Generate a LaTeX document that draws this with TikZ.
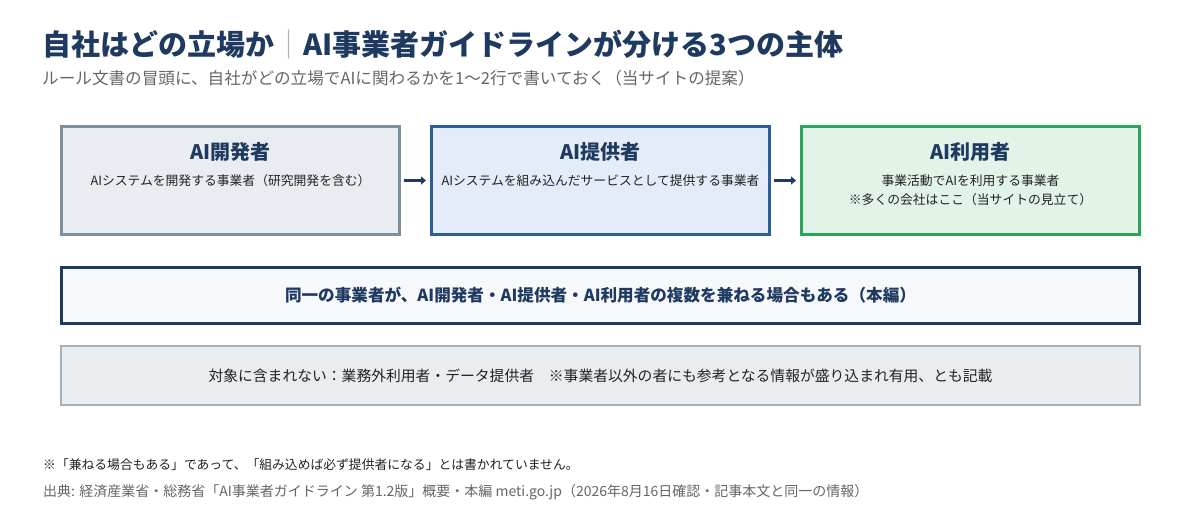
\documentclass[tikz,border=0pt]{standalone}
\usepackage{fontspec}
\setmainfont{Noto Sans CJK JP}
\usepackage{xcolor}
\usetikzlibrary{arrows.meta,positioning}

\definecolor{navy}{HTML}{1F3A60}
\definecolor{subgray}{HTML}{666666}
\definecolor{bargray}{HTML}{AAB2BA}
\definecolor{devline}{HTML}{7C909D}
\definecolor{devfill}{HTML}{E9EDF1}
\definecolor{provline}{HTML}{2E5E98}
\definecolor{provfill}{HTML}{E3ECF8}
\definecolor{userline}{HTML}{2AA65A}
\definecolor{userfill}{HTML}{E2F3E8}
\definecolor{bothfill}{HTML}{F6F8FC}
\definecolor{scopeline}{HTML}{A2B1BB}
\definecolor{scopefill}{HTML}{E9EDF0}
\definecolor{inktext}{HTML}{222222}

\begin{document}
\begin{tikzpicture}[x=1pt, y=-1pt, >={Triangle[length=5pt,width=8pt]}]
                    % Define styles
                    \tikzstyle{role} = [rectangle, draw, line width=3pt, minimum width=338pt, minimum height=108pt, inner sep=0pt]
                    \tikzstyle{roletitle} = [inner sep=0pt, text=navy, font=\bfseries\fontsize{20pt}{24pt}\selectfont]
                    \tikzstyle{roletext} = [inner sep=0pt, text=inktext, align=center, font=\fontsize{12.8pt}{19pt}\selectfont]
                    \tikzstyle{wide} = [rectangle, draw, inner sep=0pt, minimum width=1078pt]
                    \tikzstyle{line} = [draw, ->, navy, line width=3.5pt, shorten <=3pt, shorten >=4pt]
                    \tikzstyle{note} = [inner sep=0pt, anchor=west, font=\fontsize{12.8pt}{15pt}\selectfont]

                    \useasboundingbox [fill=white] (0,0) rectangle (1200,520);

                    % Heading
                    \node [note, text=navy, font=\bfseries\fontsize{29pt}{33pt}\selectfont] (title) at (42,44) {自社はどの立場か{\mdseries\color{bargray}｜}AI事業者ガイドラインが分ける3つの主体};
                    \node [note, text=subgray, font=\fontsize{16.6pt}{19pt}\selectfont] (subtitle) at (42,78) {ルール文書の冒頭に、自社がどの立場でAIに関わるかを1〜2行で書いておく（当サイトの提案）};

                    % Nodes
                    \node [role, draw=devline, fill=devfill] (dev) at (230.5,180.5) {};
                    \node [role, draw=provline, fill=provfill, right=29pt of dev] (prov) {};
                    \node [role, draw=userline, fill=userfill, right=29pt of prov] (user) {};

                    \node [roletitle] (devtitle) at ([yshift=-27pt]dev.north) {AI開発者};
                    \node [roletitle] (provtitle) at ([yshift=-27pt]prov.north) {AI提供者};
                    \node [roletitle] (usertitle) at ([yshift=-27pt]user.north) {AI利用者};

                    \node [roletext, below=13pt of devtitle] (devtext) {AIシステムを開発する事業者（研究開発を含む）};
                    \node [roletext, below=13pt of provtitle] (provtext) {AIシステムを組み込んだサービスとして提供する事業者};
                    \node [roletext, below=13pt of usertitle] (usertext) {事業活動でAIを利用する事業者\\※多くの会社はここ（当サイトの見立て）};

                    \node [wide, draw=navy, line width=3pt, fill=bothfill, minimum height=56pt, text=navy, font=\bfseries\fontsize{16.6pt}{19pt}\selectfont, below=30pt of dev.south west, anchor=north west] (both) {同一の事業者が、AI開発者・AI提供者・AI利用者の複数を兼ねる場合もある（本編）};
                    \node [wide, draw=scopeline, line width=2pt, fill=scopefill, minimum width=1079pt, minimum height=59pt, text=inktext, font=\fontsize{14.8pt}{17pt}\selectfont, below=20pt of both.south west, anchor=north west] (scope) {対象に含まれない：業務外利用者・データ提供者　※事業者以外の者にも参考となる情報が盛り込まれ有用、とも記載};

                    % Notes
                    \node [note, text=inktext] (caveat) at (43,465) {※「兼ねる場合もある」であって、「組み込めば必ず提供者になる」とは書かれていません。};
                    \node [note, text=subgray, font=\fontsize{14pt}{16pt}\selectfont] (source) at (43,492) {出典: 経済産業省・総務省「AI事業者ガイドライン 第1.2版」概要・本編 meti.go.jp（2026年8月16日確認・記事本文と同一の情報）};

                    % Arrows
                    \draw [line] (dev) -- (prov);
                    \draw [line] (prov) -- (user);
                \end{tikzpicture}
\end{document}
